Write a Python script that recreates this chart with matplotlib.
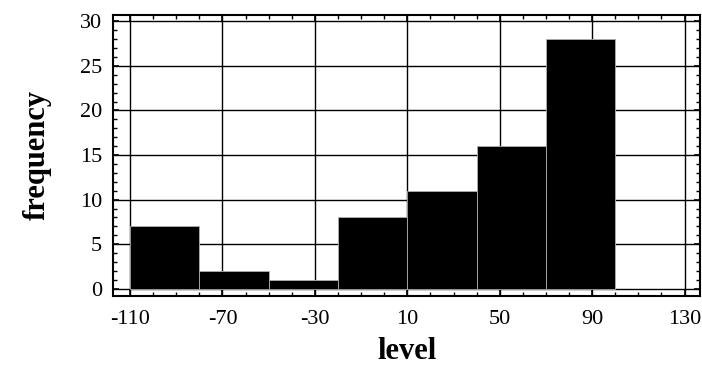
import matplotlib.pyplot as plt
from matplotlib.ticker import MultipleLocator

# histogram of level values
bin_edges = [-110, -80, -50, -20, 10, 40, 70, 100]
counts = [7, 2, 1, 8, 11, 16, 28]
x_ticks = [-110, -70, -30, 10, 50, 90, 130]
y_ticks = [0, 5, 10, 15, 20, 25, 30]

plt.rcParams['font.family'] = ['Liberation Serif', 'DejaVu Serif']
plt.rcParams['axes.unicode_minus'] = False

fig = plt.figure(figsize=(7.02, 3.67), dpi=100)
ax = fig.add_axes([113 / 702, 1 - 296 / 367, 587 / 702, 281 / 367])

widths = [bin_edges[i + 1] - bin_edges[i] for i in range(len(counts))]
ax.bar(bin_edges[:-1], counts, width=widths, align="edge", color="black",
       edgecolor="#b0b0b0", linewidth=0.6, zorder=3)

ax.set_xlim(-117.4, 136.7)
ax.set_ylim(-0.8, 30.7)
ax.set_xticks(x_ticks)
ax.set_yticks(y_ticks)
ax.xaxis.set_minor_locator(MultipleLocator(10))
ax.yaxis.set_minor_locator(MultipleLocator(1))
ax.grid(True, which="major", color="black", linewidth=1.0, zorder=1)
ax.set_axisbelow(True)

ax.tick_params(which="both", direction="in", top=True, right=True,
               color="black", labelsize=16)
ax.tick_params(which="major", length=4, width=1.2)
ax.tick_params(which="minor", length=3, width=1.0)
ax.tick_params(axis="y", pad=8)
ax.tick_params(axis="x", pad=10)
for s in ax.spines.values():
    s.set_linewidth(1.5)

ax.set_xlabel("level", fontsize=22, fontweight="bold", labelpad=6)
ax.set_ylabel("frequency", fontsize=22, fontweight="bold", labelpad=20)

fig.savefig("out.png", dpi=100)
